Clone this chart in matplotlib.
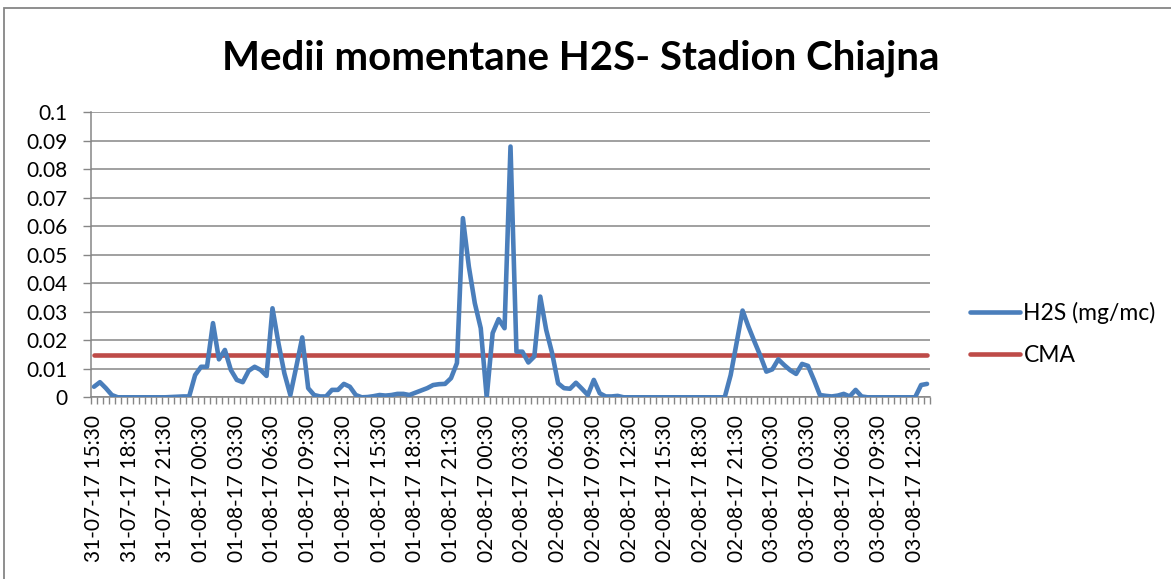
import numpy as np
import pandas as pd
import matplotlib
matplotlib.use("Agg")
import matplotlib.pyplot as plt
from matplotlib.patches import Rectangle

# 30-minute readings, 31-07-17 15:30 .. 03-08-17 13:30 (6 values per 3-hour block)
h2s = [
    0.0037, 0.0053, 0.0032, 0.0008, 0, 0,
    0, 0, 0, 0, 0, 0,
    0, 0.0001, 0.0002, 0.0003, 0.0003, 0.0078,
    0.0107, 0.0107, 0.026, 0.0133, 0.0166, 0.0096,
    0.0061, 0.0053, 0.0093, 0.0107, 0.0096, 0.0075,
    0.0312, 0.019, 0.0084, 0.0008, 0.0107, 0.021,
    0.0032, 0.0008, 0.0003, 0.0003, 0.0026, 0.0026,
    0.0047, 0.0037, 0.0008, 0, 0.0001, 0.0004,
    0.0008, 0.0006, 0.0008, 0.0012, 0.0012, 0.0008,
    0.0016, 0.0024, 0.0032, 0.0043, 0.0046, 0.0047,
    0.0067, 0.012, 0.0628, 0.0458, 0.033, 0.0242,
    0, 0.0225, 0.0274, 0.0242, 0.0879, 0.016,
    0.016, 0.0122, 0.0143, 0.0353, 0.0236, 0.0154,
    0.0049, 0.0032, 0.003, 0.0051, 0.003, 0.0008,
    0.0061, 0.0014, 0.0003, 0.0003, 0.0005, 0,
    0, 0, 0, 0, 0, 0,
    0, 0, 0, 0, 0, 0,
    0, 0, 0, 0, 0, 0.0078,
    0.019, 0.0304, 0.0247, 0.0195, 0.0145, 0.009,
    0.0098, 0.0133, 0.0113, 0.0095, 0.0082, 0.0117,
    0.011, 0.0061, 0.0008, 0.0005, 0.0003, 0.0006,
    0.0012, 0.0003, 0.0026, 0.0003, 0, 0,
    0, 0, 0, 0, 0, 0,
    0, 0.0043, 0.0047,
]
cma_limit = 0.015
times = pd.date_range("2017-07-31 15:30", periods=len(h2s), freq="30min")
categories = [t.strftime("%d-%m-%y %H:%M") for t in times]
label_every = 6
ytick_vals = [0, 0.01, 0.02, 0.03, 0.04, 0.05, 0.06, 0.07, 0.08, 0.09, 0.1]
ytick_labels = ["0", "0.01", "0.02", "0.03", "0.04", "0.05", "0.06", "0.07", "0.08", "0.09", "0.1"]

plt.rcParams["font.family"] = ["Lato", "DejaVu Sans"]
grey = "#868686"

fig = plt.figure(figsize=(11.71, 5.79), dpi=100)
fig.patches.append(Rectangle((4 / 1171, -0.1), 1.2, (579 - 8) / 579 + 0.1,
                             transform=fig.transFigure, fill=False,
                             edgecolor=grey, linewidth=1.3))

ax = fig.add_axes([91 / 1171, (579 - 397.3) / 579, 839 / 1171, 285.3 / 579])
x = np.arange(len(h2s))
ax.plot(x, [cma_limit] * len(x), color="#BE4B48", linewidth=3.3,
        solid_capstyle="round", label="CMA", zorder=3)
ax.plot(x, h2s, color="#4A7EBB", linewidth=3.3, solid_capstyle="round",
        solid_joinstyle="round", label="H2S (mg/mc)", zorder=4)

ax.set_xlim(-0.5, len(h2s) - 0.5)
ax.set_ylim(0, 0.1)
ax.set_yticks(ytick_vals)
ax.set_yticklabels(ytick_labels)
ax.tick_params(axis="y", length=6, width=1, color=grey, pad=11, labelsize=15)
ax.yaxis.grid(True, color=grey, linewidth=1.1)
ax.set_axisbelow(True)

major = x[::label_every]
ax.set_xticks(major)
ax.set_xticklabels([categories[i] for i in major], rotation=90, va="top", ha="center")
ax.set_xticks(np.arange(-0.5, len(h2s), 1), minor=True)
ax.tick_params(axis="x", which="major", length=0, pad=13, labelsize=15)
ax.tick_params(axis="x", which="minor", length=5, width=1, color=grey)

for s in ["top", "right"]:
    ax.spines[s].set_visible(False)
for s in ["left", "bottom"]:
    ax.spines[s].set_color(grey)
    ax.spines[s].set_linewidth(1.1)

fig.text(581 / 1171, 1 - 58 / 579, "Medii momentane H2S- Stadion Chiajna",
         ha="center", va="center", fontsize=29, fontweight="bold")

handles, labels = ax.get_legend_handles_labels()
fig.legend(handles[::-1], labels[::-1], loc="center left",
           bbox_to_anchor=(949 / 1171, 1 - 334 / 579), frameon=False,
           fontsize=16.5, handlelength=2.2, handletextpad=0.15, labelspacing=0.95)

fig.savefig("out.png", dpi=100)
